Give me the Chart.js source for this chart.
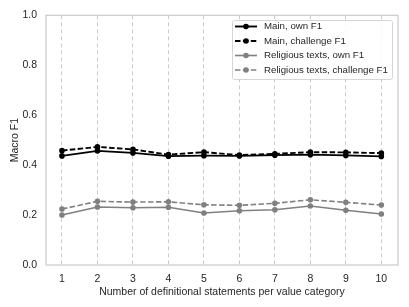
<!DOCTYPE html>
<html>
<head>
<meta charset="utf-8">
<script src="https://cdn.jsdelivr.net/npm/chart.js@4/dist/chart.umd.min.js"></script>
<style>
  html, body { margin: 0; padding: 0; background: #fff; }
  #wrap { width: 409px; height: 307px; }
</style>
</head>
<body>
<div id="wrap"><canvas id="chart"></canvas></div>
<script>
// Données
const statementCounts = [1, 2, 3, 4, 5, 6, 7, 8, 9, 10];
const mainOwn = [0.437, 0.457, 0.449, 0.436, 0.438, 0.437, 0.440, 0.442, 0.439, 0.435];
const mainChallenge = [0.458, 0.473, 0.463, 0.442, 0.452, 0.440, 0.445, 0.452, 0.451, 0.448];
const religiousOwn = [0.200, 0.232, 0.229, 0.231, 0.208, 0.217, 0.221, 0.236, 0.219, 0.204];
const religiousChallenge = [0.224, 0.255, 0.252, 0.253, 0.241, 0.239, 0.247, 0.261, 0.251, 0.240];
const yTicks = [0, 0.2, 0.4, 0.6, 0.8, 1.0];

const FONT = "'Liberation Sans', Arial, sans-serif";
const GRID = '#cccccc';

function toPoints(values) {
  return statementCounts.map((x, i) => ({ x: x, y: values[i] }));
}

function series(label, values, color, dashed, width) {
  return {
    label: label,
    data: toPoints(values),
    borderColor: color,
    backgroundColor: color,
    borderWidth: width,
    borderDash: dashed ? [5.5, 2.4] : [],
    pointRadius: 2.8,
    pointBorderWidth: 0,
    pointHoverRadius: 2.8,
    tension: 0
  };
}

// Cadre complet + légende dessinée à la main (ligne + marqueur)
const framePlugin = {
  id: 'frame',
  afterDraw(chart) {
    const ctx = chart.ctx;
    const a = chart.chartArea;
    ctx.save();
    ctx.strokeStyle = GRID;
    ctx.lineWidth = 1.25;
    ctx.strokeRect(a.left, a.top, a.right - a.left, a.bottom - a.top);

    // légende
    const bx = 232, by = 20, bw = 160, bh = 59;
    ctx.fillStyle = 'rgba(255,255,255,0.85)';
    ctx.strokeStyle = '#d6d6d6';
    ctx.lineWidth = 1;
    ctx.beginPath();
    ctx.roundRect(bx + 0.5, by + 0.5, bw, bh, 2);
    ctx.fill();
    ctx.stroke();

    ctx.font = '9.7px ' + FONT;
    ctx.textBaseline = 'middle';
    chart.data.datasets.forEach((ds, i) => {
      const y = by + 6.5 + i * 14.5;
      ctx.strokeStyle = ds.borderColor;
      ctx.lineWidth = ds.borderWidth;
      ctx.setLineDash(ds.borderDash);
      ctx.beginPath();
      ctx.moveTo(235, y);
      ctx.lineTo(257, y);
      ctx.stroke();
      ctx.setLineDash([]);
      ctx.fillStyle = ds.borderColor;
      ctx.beginPath();
      ctx.arc(246, y, 2.8, 0, Math.PI * 2);
      ctx.fill();
      ctx.fillStyle = '#262626';
      ctx.textAlign = 'left';
      ctx.fillText(ds.label, 264, y);
    });
    ctx.restore();
  }
};

new Chart(document.getElementById('chart'), {
  type: 'line',
  data: {
    datasets: [
      series('Main, own F1', mainOwn, '#000000', false, 1.9),
      series('Main, challenge F1', mainChallenge, '#000000', true, 1.9),
      series('Religious texts, own F1', religiousOwn, '#808080', false, 1.6),
      series('Religious texts, challenge F1', religiousChallenge, '#808080', true, 1.6)
    ]
  },
  options: {
    responsive: true,
    maintainAspectRatio: false,
    animation: false,
    layout: { padding: { top: 15, right: 11, left: 0, bottom: 0 } },
    plugins: {
      legend: { display: false },
      tooltip: { enabled: false }
    },
    scales: {
      x: {
        type: 'linear',
        min: 0.55,
        max: 10.47,
        afterBuildTicks: axis => { axis.ticks = statementCounts.map(v => ({ value: v })); },
        afterFit: axis => { axis.height = 42; },
        grid: {
          color: GRID,
          lineWidth: 1,
          drawTicks: false
        },
        border: { display: false, dash: [4, 3] },
        ticks: {
          color: '#262626',
          font: { family: FONT, size: 10.5 },
          padding: 8,
          maxRotation: 0
        },
        title: {
          display: true,
          text: 'Number of definitional statements per value category',
          color: '#262626',
          font: { family: FONT, size: 10.5 },
          padding: { top: 3, bottom: 9 }
        }
      },
      y: {
        min: 0,
        max: 1.0,
        afterBuildTicks: axis => { axis.ticks = yTicks.map(v => ({ value: v })); },
        afterFit: axis => { axis.width = 46; },
        grid: { display: false, drawTicks: false },
        border: { display: false },
        ticks: {
          color: '#262626',
          font: { family: FONT, size: 10.5 },
          padding: 9,
          callback: v => v.toFixed(1)
        },
        title: {
          display: true,
          text: 'Macro F1',
          color: '#262626',
          font: { family: FONT, size: 10.5 },
          padding: { top: 9, bottom: 0 }
        }
      }
    }
  },
  plugins: [framePlugin]
});
</script>
</body>
</html>
